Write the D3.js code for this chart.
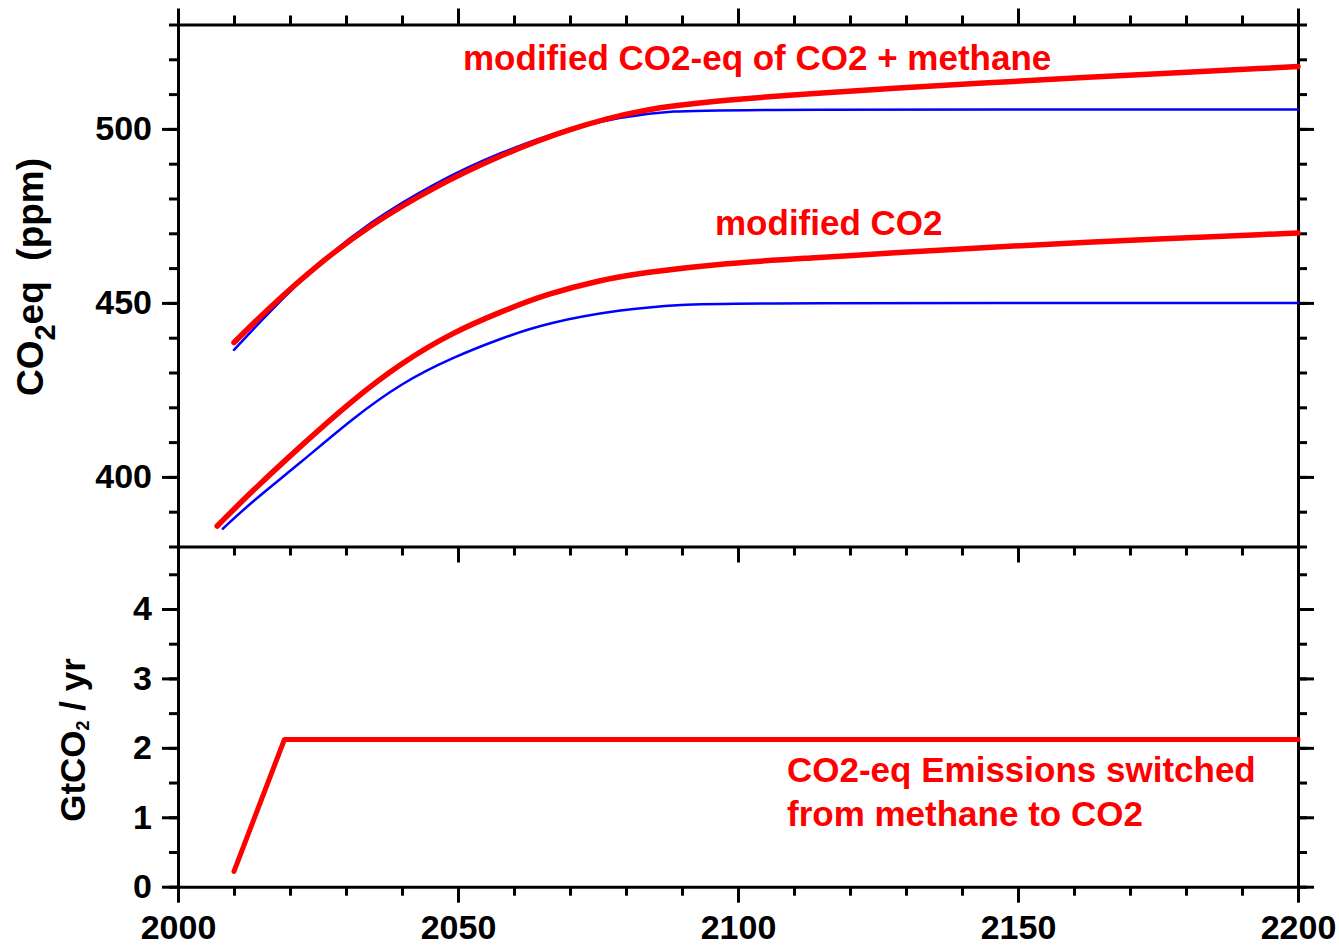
<!DOCTYPE html>
<html>
<head>
<meta charset="utf-8">
<script src="https://cdn.jsdelivr.net/npm/d3@7"></script>
<style>
body { margin: 0; background: #fff; }
svg text { font-family: "Liberation Sans", Arial, sans-serif; font-weight: bold; }
</style>
</head>
<body>
<svg id="chart" width="1339" height="945"></svg>
<script>
// values: [year, value]
var co2MethaneModified = [[2010, 438.6], [2016, 448.2], [2025, 461.1], [2034, 472.1], [2046, 483.6],
    [2058, 492.7], [2069, 499.6], [2083, 505.9], [2098, 508.3], [2113, 510.2], [2128, 511.7],
    [2143, 513.1], [2158, 514.5], [2200, 517.9]];
var co2MethaneBase = [[2010, 436.5], [2016, 446.9], [2025, 461.3], [2034, 473.0], [2046, 484.7],
    [2058, 493.6], [2069, 499.8], [2079, 503.4], [2088, 505.2], [2100, 505.6], [2200, 505.6]];
var co2Modified = [[2007, 385.9], [2013, 395.6], [2022, 409.0], [2031, 421.9], [2040, 432.9],
    [2049, 441.5], [2058, 447.7], [2066, 452.6], [2075, 456.4], [2083, 458.7], [2098, 461.5],
    [2113, 462.9], [2128, 464.4], [2143, 465.8], [2158, 467.2], [2200, 470.1]];
var co2Base = [[2008, 385.1], [2013, 392.6], [2022, 404.2], [2031, 416.6], [2040, 427.1],
    [2049, 434.3], [2058, 440.0], [2066, 444.3], [2079, 448.1], [2090, 449.6], [2100, 450], [2200, 450]];
var emissions = [[2010, 0.22], [2019, 2.12], [2200, 2.12]];

var yearTicks = [2000, 2050, 2100, 2150, 2200];
var ppmTicks = [400, 450, 500];
var gtTicks = [0, 1, 2, 3, 4];

var red = '#ff0000', blue = '#0000ff';

var svg = d3.select('#chart');

var x = d3.scaleLinear().domain([2000, 2200]).range([178, 1298]);
var yTop = d3.scaleLinear().domain([380, 530]).range([546.5, 24.5]);
var yBot = d3.scaleLinear().domain([0, 4.9]).range([886.7, 546.5]);

function drawAxis(tx, ty, axisFn, scale, majors, minors, labels) {
    var g = svg.append('g').attr('transform', 'translate(' + tx + ',' + ty + ')');
    g.append('g')
        .call(axisFn(scale).tickValues(minors).tickSize(9).tickFormat('').tickSizeOuter(0))
        .call(function (s) { s.select('.domain').remove(); });
    g.append('g')
        .call(axisFn(scale).tickValues(majors).tickSize(16).tickPadding(10)
            .tickFormat(labels ? d3.format('d') : '').tickSizeOuter(0));
    g.selectAll('.tick line').attr('stroke', '#000').attr('stroke-width', 3);
    g.selectAll('.domain').attr('stroke', '#000').attr('stroke-width', 3).attr('stroke-linecap', 'square');
    g.selectAll('text').attr('fill', '#000').style('font-size', '34px');
    return g;
}

// top panel
drawAxis(178, 0, d3.axisLeft, yTop, ppmTicks, d3.range(380, 531, 10), true);
drawAxis(1298, 0, d3.axisRight, yTop, ppmTicks, d3.range(380, 531, 10), false);
drawAxis(0, 24.5, d3.axisTop, x, yearTicks, d3.range(2000, 2201, 10), false);
drawAxis(0, 546.5, d3.axisBottom, x, yearTicks, d3.range(2000, 2201, 10), false);

// bottom panel
drawAxis(178, 0, d3.axisLeft, yBot, gtTicks, d3.range(0, 4.9, 0.5), true);
drawAxis(1298, 0, d3.axisRight, yBot, gtTicks, d3.range(0, 4.9, 0.5), false);
var xb = drawAxis(0, 886.7, d3.axisBottom, x, yearTicks, d3.range(2000, 2201, 10), true);
xb.selectAll('text').attr('y', 28);

var lineTop = d3.line()
    .x(function (d) { return x(d[0]); })
    .y(function (d) { return yTop(d[1]); })
    .curve(d3.curveBasis);
var lineBot = d3.line()
    .x(function (d) { return x(d[0]); })
    .y(function (d) { return yBot(d[1]); });

function curve(data, gen, color, width) {
    svg.append('path')
        .datum(data)
        .attr('d', gen)
        .attr('fill', 'none')
        .attr('stroke', color)
        .attr('stroke-width', width)
        .attr('stroke-linecap', 'round')
        .attr('stroke-linejoin', 'round');
}

curve(co2MethaneBase, lineTop, blue, 2.5);
curve(co2Base, lineTop, blue, 2.5);
curve(co2MethaneModified, lineTop, red, 5.5);
curve(co2Modified, lineTop, red, 5.5);
curve(emissions, lineBot, red, 5);

// annotations
function note(tx, ty, str) {
    svg.append('text').attr('x', tx).attr('y', ty)
        .attr('fill', red).style('font-size', '35px').text(str);
}
note(463, 70, 'modified CO2-eq of CO2 + methane');
note(715, 235, 'modified CO2');
note(787, 782, 'CO2-eq Emissions switched');
note(787, 826, 'from methane to CO2');

// y axis titles
var t1 = svg.append('text')
    .attr('transform', 'translate(43,277) rotate(-90)')
    .attr('text-anchor', 'middle')
    .style('font-size', '37px');
t1.append('tspan').text('CO');
t1.append('tspan').attr('dy', 12).style('font-size', '29px').text('2');
t1.append('tspan').attr('dy', -12).text('eq\u00a0\u00a0(ppm)');

var t2 = svg.append('text')
    .attr('transform', 'translate(85,740) rotate(-90)')
    .attr('text-anchor', 'middle')
    .style('font-size', '35px');
t2.append('tspan').text('GtCO');
t2.append('tspan').attr('dy', 4).style('font-size', '18px').text('2');
t2.append('tspan').attr('dy', -4).text(' / yr');
</script>
</body>
</html>
